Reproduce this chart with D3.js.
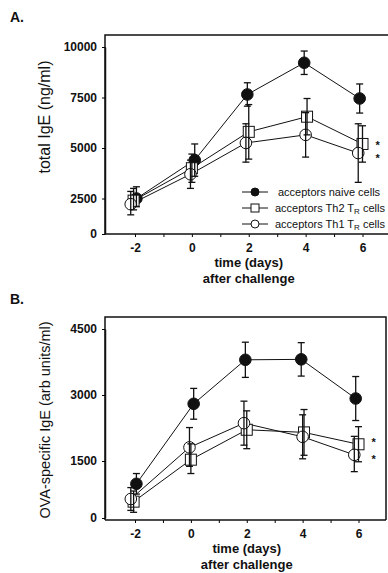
<!DOCTYPE html>
<html>
<head>
<meta charset="utf-8">
<script src="https://cdn.jsdelivr.net/npm/d3@7"></script>
<style>
  body { margin: 0; background: #fff; }
  svg { display: block; font-family: "Liberation Sans", Arial, sans-serif; }
</style>
</head>
<body>
<svg id="chart" width="388" height="573"></svg>
<script>
// x positions (days after challenge), slightly shifted per series like in the figure
var daysNaive = [-1.95, 0.1, 1.95, 3.95, 5.9];
var daysTh2 = [-2.05, 0, 2, 4.05, 6];
var daysTh1 = [-2.15, -0.05, 1.9, 4, 5.85];

var xTicks = [-2, -1, 0, 1, 2, 3, 4, 5, 6];

// panel A - total IgE (ng/ml)
var naiveA = [2500, 4400, 7650, 9220, 7450];
var naiveAErr = [580, 800, 580, 580, 720];
var th2A = [2350, 4000, 5800, 6550, 5200];
var th2AErr = [650, 700, 1350, 900, 900];
var th1A = [2100, 3700, 5250, 5650, 4750];
var th1AErr = [750, 700, 950, 1100, 1450];
var yTicksA = [0, 2500, 5000, 7500, 10000];
var starsA = [5250, 4600];

// panel B - OVA-specific IgE (arb units/ml)
var naiveB = [900, 2800, 3800, 3810, 2920];
var naiveBErr = [270, 350, 400, 380, 500];
var th2B = [430, 1530, 2210, 2150, 1880];
var th2BErr = [280, 360, 430, 520, 400];
var th1B = [500, 1810, 2360, 2050, 1640];
var th1BErr = [300, 450, 500, 500, 420];
var yTicksB = [0, 1500, 3000, 4500];
var starsB = [1980, 1580];

var legendLabels = ["acceptors naive cells", "acceptors Th2 T", "acceptors Th1 T"];

var svg = d3.select("#chart");

function drawPanel(p) {
  var g = svg.append("g");
  var x = d3.scaleLinear().domain([-2, 6]).range(p.xRange);
  var y = d3.scaleLinear().domain(p.yDomain).range(p.yRange);

  // frame
  g.append("path")
    .attr("d", "M" + p.left + "," + p.bottom + "V" + p.top + "H" + p.right + (p.closed ? "V" + p.bottom : ""))
    .attr("fill", "none").attr("stroke", "#111").attr("stroke-width", 1.5);

  // y axis
  var ya = g.append("g").attr("transform", "translate(" + p.left + ",0)")
    .call(d3.axisLeft(y).tickValues(p.yTicks).tickSize(3).tickSizeOuter(0).tickPadding(5).tickFormat(d3.format("d")));
  ya.select(".domain").attr("stroke", "#111").attr("stroke-width", 1.5);
  ya.selectAll("text").attr("font-size", 12).attr("font-weight", "bold").attr("fill", "#111")
    .attr("font-family", "Liberation Sans, Arial, sans-serif");

  // x axis
  var xa = g.append("g").attr("transform", "translate(0," + p.bottom + ")")
    .call(d3.axisBottom(x).tickValues(xTicks).tickSize(3).tickSizeOuter(0).tickPadding(6)
      .tickFormat(function (d) { return d % 2 === 0 ? d : ""; }));
  xa.select(".domain").remove();
  g.append("line").attr("x1", p.left).attr("x2", p.right).attr("y1", p.bottom).attr("y2", p.bottom)
    .attr("stroke", "#111").attr("stroke-width", 1.5);
  xa.selectAll("text").attr("font-size", 12).attr("font-weight", "bold").attr("fill", "#111")
    .attr("font-family", "Liberation Sans, Arial, sans-serif");

  // axis titles
  g.append("text").attr("transform", "translate(" + p.yTitleX + "," + p.yTitleY + ") rotate(-90)")
    .attr("text-anchor", "middle").attr("font-size", p.yTitleSize).attr("fill", "#111").text(p.yTitle);
  var midX = x(2);
  g.append("text").attr("x", midX).attr("y", p.bottom + 33).attr("text-anchor", "middle")
    .attr("font-size", 13).attr("font-weight", "bold").attr("fill", "#111").text("time (days)");
  g.append("text").attr("x", midX).attr("y", p.bottom + 49).attr("text-anchor", "middle")
    .attr("font-size", 13).attr("font-weight", "bold").attr("fill", "#111").text("after challenge");

  g.append("text").attr("x", 10).attr("y", p.top - 13).attr("font-size", 14).attr("font-weight", "bold")
    .attr("fill", "#111").text(p.letter);

  var line = d3.line().x(function (d) { return x(d.x); }).y(function (d) { return y(d.y); });

  p.series.forEach(function (s) {
    var pts = s.xs.map(function (d, i) { return { x: d, y: s.vals[i], e: s.errs[i] }; });
    g.append("path").datum(pts).attr("d", line).attr("fill", "none").attr("stroke", "#111").attr("stroke-width", 1);
    s.pts = pts;
  });

  p.series.forEach(function (s) {
    var mk = g.append("g").selectAll("g").data(s.pts).join("g");
    if (s.shape === "square") {
      mk.append("rect").attr("x", function (d) { return x(d.x) - 5.5; }).attr("y", function (d) { return y(d.y) - 5.5; })
        .attr("width", 11).attr("height", 11).attr("fill", "#fff").attr("stroke", "#111").attr("stroke-width", 1);
    } else {
      mk.append("circle").attr("cx", function (d) { return x(d.x); }).attr("cy", function (d) { return y(d.y); })
        .attr("r", 5.8).attr("fill", s.shape === "filled" ? "#111" : "#fff").attr("stroke", "#111").attr("stroke-width", 1);
    }
  });

  // error bars on top
  p.series.forEach(function (s) {
    var eb = g.append("g").selectAll("g").data(s.pts).join("g").attr("stroke", "#111").attr("stroke-width", 1.3);
    eb.append("line").attr("x1", function (d) { return x(d.x); }).attr("x2", function (d) { return x(d.x); })
      .attr("y1", function (d) { return y(d.y + d.e); }).attr("y2", function (d) { return y(d.y - d.e); });
    [1, -1].forEach(function (sg) {
      eb.append("line").attr("x1", function (d) { return x(d.x) - 3.5; }).attr("x2", function (d) { return x(d.x) + 3.5; })
        .attr("y1", function (d) { return y(d.y + sg * d.e); }).attr("y2", function (d) { return y(d.y + sg * d.e); });
    });
  });

  // asterisks for Th2 / Th1 at day 6
  p.stars.forEach(function (v) {
    g.append("text").attr("x", x(6) + 13).attr("y", y(v) + 6).attr("font-size", 11).attr("font-weight", "bold")
      .attr("fill", "#111").text("*");
  });
  return { x: x, y: y, g: g };
}

var pa = drawPanel({
  letter: "A.", left: 105, right: 392, top: 35, bottom: 234, closed: false,
  xRange: [135, 362.5], yDomain: [0, 2500, 10000], yRange: [234, 198.5, 47], yTicks: yTicksA,
  yTitle: "total IgE (ng/ml)", yTitleX: 50, yTitleY: 117, yTitleSize: 16,
  series: [
    { xs: daysNaive, vals: naiveA, errs: naiveAErr, shape: "filled" },
    { xs: daysTh2, vals: th2A, errs: th2AErr, shape: "square" },
    { xs: daysTh1, vals: th1A, errs: th1AErr, shape: "open" }
  ],
  stars: starsA
});

drawPanel({
  letter: "B.", left: 105, right: 386, top: 317, bottom: 520, closed: true,
  xRange: [135, 358.5], yDomain: [0, 1500, 4500], yRange: [518, 461, 329], yTicks: yTicksB,
  yTitle: "OVA-specific IgE (arb units/ml)", yTitleX: 50, yTitleY: 420, yTitleSize: 14.5,
  series: [
    { xs: daysNaive, vals: naiveB, errs: naiveBErr, shape: "filled" },
    { xs: daysTh2, vals: th2B, errs: th2BErr, shape: "square" },
    { xs: daysTh1, vals: th1B, errs: th1BErr, shape: "open" }
  ],
  stars: starsB
});

// legend in panel A
var shapes = ["filled", "square", "open"];
var leg = pa.g.append("g");
legendLabels.forEach(function (lab, i) {
  var yy = 192 + i * 16;
  leg.append("line").attr("x1", 242).attr("x2", 268).attr("y1", yy).attr("y2", yy).attr("stroke", "#111").attr("stroke-width", 1);
  if (shapes[i] === "square") {
    leg.append("rect").attr("x", 251).attr("y", yy - 4).attr("width", 8).attr("height", 8)
      .attr("fill", "#fff").attr("stroke", "#111").attr("stroke-width", 1);
  } else {
    leg.append("circle").attr("cx", 255).attr("cy", yy).attr("r", 4)
      .attr("fill", shapes[i] === "filled" ? "#111" : "#fff").attr("stroke", "#111").attr("stroke-width", 1);
  }
  var t = leg.append("text").attr("x", i === 0 ? 278 : 275).attr("y", yy + 4).attr("font-size", 11).attr("fill", "#111");
  t.append("tspan").text(lab);
  if (i > 0) {
    t.append("tspan").attr("font-size", 8).attr("dy", 2).text("R");
    t.append("tspan").attr("dy", -2).text(" cells");
  }
});
</script>
</body>
</html>
